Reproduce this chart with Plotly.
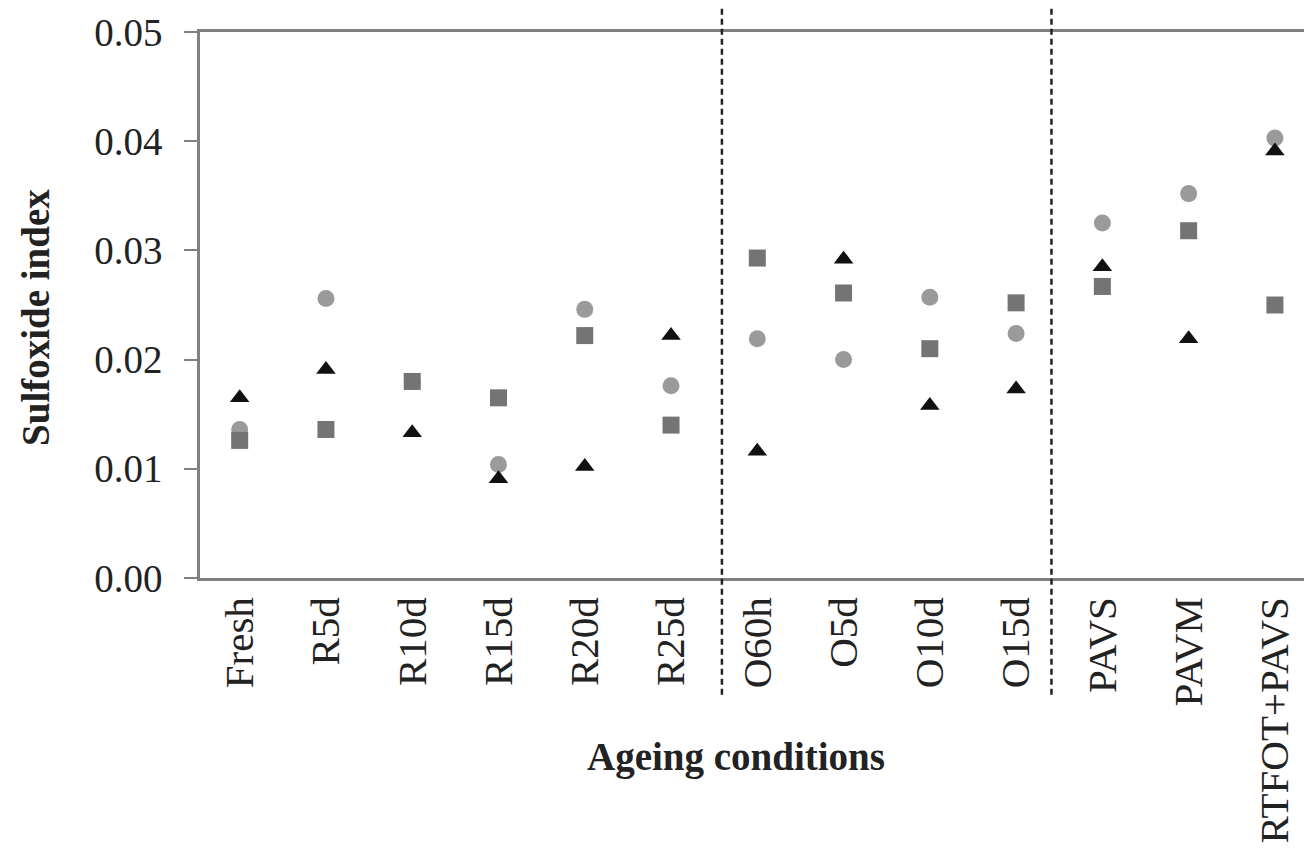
import plotly.graph_objects as go

conditions = ["Fresh", "R5d", "R10d", "R15d", "R20d", "R25d",
              "O60h", "O5d", "O10d", "O15d", "PAVS", "PAVM", "RTFOT+PAVS"]

# three series (circle, square, triangle markers)
circle_vals = [0.0136, 0.0256, 0.0180, 0.0104, 0.0246, 0.0176,
               0.0219, 0.0200, 0.0257, 0.0224, 0.0325, 0.0352, 0.0403]
square_vals = [0.0126, 0.0136, 0.0180, 0.0165, 0.0222, 0.0140,
               0.0293, 0.0261, 0.0210, 0.0252, 0.0267, 0.0318, 0.0250]
triangle_vals = [0.0165, 0.0191, 0.0133, 0.0091, 0.0102, 0.0222,
                 0.0116, 0.0292, 0.0158, 0.0173, 0.0285, 0.0219, 0.0391]

yticks = [0.00, 0.01, 0.02, 0.03, 0.04, 0.05]
ytick_text = ["0.00", "0.01", "0.02", "0.03", "0.04", "0.05"]

font_family = "Liberation Serif"

fig = go.Figure()
series = [
    ("circle", circle_vals, "circle", "#9a9a9a"),
    ("square", square_vals, "square", "#747474"),
    ("triangle", triangle_vals, "triangle-up", "#111111"),
]
for name, vals, symbol, color in series:
    fig.add_trace(
        go.Scatter(
            x=conditions,
            y=vals,
            mode="markers",
            name=name,
            marker=dict(symbol=symbol, size=17, color=color, line=dict(width=0)),
        )
    )

# dashed separators between the ageing groups
for xpos in [5.59, 9.41]:
    fig.add_shape(
        type="line",
        xref="x",
        yref="paper",
        x0=xpos,
        x1=xpos,
        y0=-0.214,
        y1=1.1,
        line=dict(color="#222222", width=2.5, dash="6px,4px"),
    )

# axis titles placed as annotations (page body adds an 8px offset)
fig.add_annotation(
    text="<b>Sulfoxide index</b>",
    xref="paper", yref="paper", x=0, y=0.5,
    xanchor="center", yanchor="middle",
    xshift=-165, yshift=-13, textangle=-90,
    showarrow=False, font=dict(size=39),
)
fig.add_annotation(
    text="<b>Ageing conditions</b>",
    xref="paper", yref="paper", x=0.5, y=0,
    xanchor="center", yanchor="middle",
    xshift=-20, yshift=-179,
    showarrow=False, font=dict(size=39),
)

fig.update_layout(
    width=1304,
    height=847,
    margin=dict(l=192, r=0, t=24, b=277),
    plot_bgcolor="white",
    paper_bgcolor="white",
    showlegend=False,
    font=dict(family=font_family, size=39, color="#222222"),
)
fig.update_xaxes(
    type="category",
    range=[-0.46, 12.43],
    automargin=False,
    showgrid=False,
    showline=True,
    mirror=True,
    linecolor="#808080",
    linewidth=2.5,
    ticks="",
    tickangle=-90,
    tickfont=dict(size=41),
)
fig.update_yaxes(
    range=[0, 0.05],
    automargin=False,
    tickvals=yticks,
    ticktext=ytick_text,
    showgrid=False,
    zeroline=False,
    showline=True,
    linecolor="#808080",
    linewidth=2.5,
    ticks="outside",
    ticklen=13,
    tickwidth=2,
    tickcolor="#808080",
    ticklabelstandoff=14,
    tickfont=dict(size=39),
)

fig.write_html("out.html")
